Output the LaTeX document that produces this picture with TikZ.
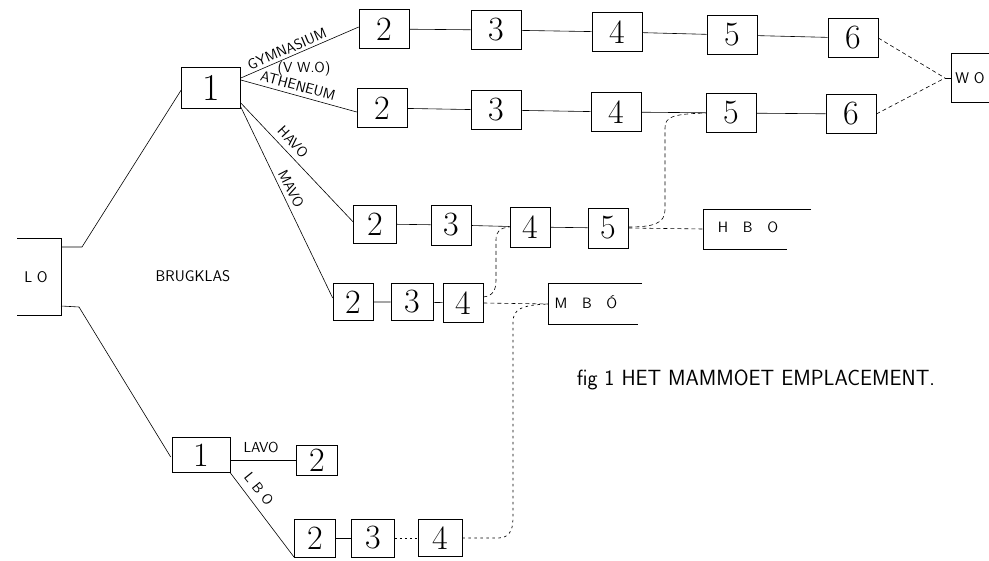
\documentclass[tikz,border=0pt]{standalone}
\usepackage{fontspec}
\usetikzlibrary{calc}
\tikzset{
  conn/.style={line width=0.6pt},
  dashconn/.style={line width=0.6pt, dash pattern=on 4pt off 3pt},
  dotconn/.style={line width=0.7pt, dash pattern=on 2.5pt off 3.5pt},
  numbox/.style={draw, line width=0.6pt, inner sep=0pt, minimum width=50pt, minimum height=39pt, font=\fontsize{34}{34}\selectfont},
  smallbox/.style={numbox, minimum width=41pt, minimum height=38pt},
  lab/.style={font=\sffamily\fontsize{14.5}{14.5}\selectfont, inner sep=0pt},
  bigtxt/.style={font=\sffamily\fontsize{15.5}{15.5}\selectfont, inner sep=0pt},
}
\begin{document}
\begin{tikzpicture}[x=1pt,y=-1pt]
\useasboundingbox (0,0) rectangle (989,561);
% LO
\draw[conn] (17,238) -- (61,238) -- (61,315) -- (17,315);
\node[bigtxt] (lo) at (36,277) {L O};
\coordinate (loT) at (61,247);
\coordinate (loTk) at (82,247);
\coordinate (loB) at (61,306);
\coordinate (loBk) at (79,307);
% upper branch
\node[numbox, minimum width=59pt, minimum height=41pt, font=\fontsize{38}{38}\selectfont] (one) at (211,88) {1};
% gymnasium row
\node[numbox] (g2) at (384,29) {2};
\node[numbox] (g3) at (496,30) {3};
\node[numbox] (g4) at (617,32) {4};
\node[numbox] (g5) at (732,35) {5};
\node[numbox] (g6) at (853,38) {6};
% atheneum row
\node[numbox] (a2) at (382,108) {2};
\node[numbox] (a3) at (496,110) {3};
\node[numbox] (a4) at (616,112) {4};
\node[numbox] (a5) at (731,113) {5};
\node[numbox] (a6) at (851,114) {6};
% havo row
\node[smallbox, minimum width=43pt] (h2) at (375,224) {2};
\node[smallbox, minimum width=40pt, minimum height=40pt] (h3) at (451,225) {3};
\node[smallbox, minimum width=40pt, minimum height=40pt] (h4) at (530,227) {4};
\node[smallbox, minimum width=40pt, minimum height=40pt] (h5) at (608,228) {5};
% mavo row
\node[smallbox, minimum width=40pt, minimum height=37pt] (m2) at (353,302) {2};
\node[smallbox, minimum width=42pt, minimum height=37pt] (m3) at (412,302) {3};
\node[smallbox, minimum width=40pt, minimum height=39pt] (m4) at (463,303) {4};
% lower branch
\node[numbox, minimum width=58pt, minimum height=35pt] (l1) at (201,455) {1};
\node[smallbox, minimum width=41pt, minimum height=30pt] (lv2) at (317,460) {2};
\node[smallbox] (b2) at (315,538) {2};
\node[smallbox, minimum width=43pt] (b3) at (373,538) {3};
\node[smallbox, minimum width=44pt, minimum height=37pt] (b4) at (440,538) {4};
% open boxes
\draw[conn] (642,283) -- (548,283) -- (548,324) -- (638,324);
\node[lab, font=\sffamily\fontsize{15}{15}\selectfont] (mbo) at (586,302) {M\ \ \ B\ \ \ Ó};
\coordinate (mboW) at (548,304);
\draw[conn] (811,209) -- (703,209) -- (703,249) -- (787,249);
\node[lab, font=\sffamily\fontsize{15}{15}\selectfont] (hbo) at (748,227) {H\ \ \ B\ \ \ O};
\coordinate (hboW) at (703,229);
\draw[conn] (989,53) -- (951,53) -- (951,102) -- (989,102);
\node[bigtxt] (wo) at (970,78) {W O};
\coordinate (woW) at (951,78);
\coordinate (wom) at (945,78);
% LO connectors
\draw[conn] (loT) -- (loTk) -- ($(one.west)+(0,2)$);
\draw[conn] (loB) -- (loBk) -- ($(l1.west)+(-1,2)$);
% upper fan
\draw[conn] ($(one.east)+(0,-10)$) -- ($(g2.west)+(0,-2)$);
\draw[conn] ($(one.east)+(0,-8)$) -- ($(a2.west)+(0,4)$);
\draw[conn] ($(one.east)+(0,15)$) -- ($(h2.west)+(0,-2)$);
\draw[conn] ($(one.east)+(0,19)$) -- ($(m2.west)+(0,-4)$);
% rows
\draw[conn] (g2) -- (g3) -- (g4) -- (g5) -- (g6);
\draw[conn] (a2) -- (a3) -- (a4) -- (a5) -- (a6);
\draw[conn] (h2) -- (h3) -- (h4) -- (h5);
\draw[conn] (m2) -- (m3) -- (m4);
\draw[conn] (l1.east |- lv2.west) -- (lv2.west);
\draw[conn] (l1.south east) -- (b2.south west);
\draw[conn] (b2) -- (b3);
\draw[dashconn, dash pattern=on 2.5pt off 2.5pt] (b3) -- (b4);
% WO
\draw[dashconn] (g6.east) -- (wom);
\draw[dashconn] (a6.east) -- (wom);
\draw[conn] (wom) -- (woW);
% havo dashed
\draw[dashconn] (h5.east) -- (hboW);
\draw[dashconn] ($(h5.east)+(0,-1)$) .. controls (652,227) and (665,224) .. (665,210) -- (665,128) .. controls (665,117) and (672,114) .. (a5.west);
% mavo dashed
\draw[dashconn] (m4.east) -- (mboW);
\draw[dashconn] ($(m4.east)+(0,-6)$) .. controls (493,296) and (496,290) .. (496,280) -- (496,240) .. controls (496,231) and (500,228) .. (h4.west);
% lbo dotted
\coordinate (bturn) at (498,538);
\draw[dotconn] (b4.east) -- (bturn) .. controls (508,538) and (513,532) .. (513,518) -- (513,322) .. controls (513,309) and (522,305) .. (mboW);
% labels
\node[lab, rotate=23] (tg) at (287,49) {GYMNASIUM};
\node[lab] (tv) at (304,69) {(V W.O)};
\node[lab, rotate=-15] (ta) at (298,86) {ATHENEUM};
\node[lab, rotate=-47] (th) at (293,142) {HAVO};
\node[lab, rotate=-63] (tm) at (291,189) {MAVO};
\node[lab] (tl) at (261,447) {LAVO};
\node[lab, rotate=-51] (tb) at (259,489) {L\,\,B\,\,O};
\node[bigtxt] (brug) at (193,276) {BRUGKLAS};
\node[inner sep=0pt, font=\sffamily\fontsize{22}{22}\selectfont, xscale=0.97] (cap) at (756,380) {fig 1\,\,HET MAMMOET\,\,EMPLACEMENT.};
\end{tikzpicture}
\end{document}
